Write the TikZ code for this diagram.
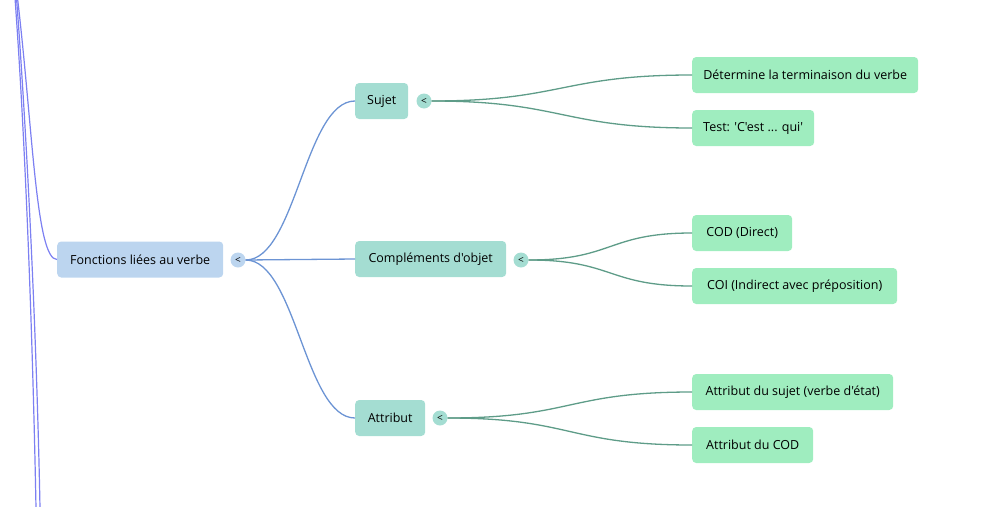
\documentclass[tikz,border=0pt]{standalone}
\usepackage{fontspec}
\setmainfont{Open Sans}[Ligatures=TeXOff]
\definecolor{rootfill}{HTML}{BCD5EF}
\definecolor{midfill}{HTML}{A4DDD2}
\definecolor{leaffill}{HTML}{9FEDBF}
\definecolor{upline}{HTML}{7C80F2}
\definecolor{blueedge}{HTML}{6C94D4}
\definecolor{greenedge}{HTML}{5E9C88}
\begin{document}
\begin{tikzpicture}[x=1pt,y=-1pt,
  box/.style={rounded corners=4pt, minimum height=36pt, inner sep=0pt, font=\fontsize{12.5}{14}\selectfont, text=black, anchor=west},
  rootbox/.style={box, fill=rootfill},
  midbox/.style={box, fill=midfill},
  leafbox/.style={box, fill=leaffill},
  dot/.style={circle, minimum size=15pt, inner sep=0pt, font=\fontsize{10}{11}\selectfont, text=black},
  rootdot/.style={dot, fill=rootfill},
  middot/.style={dot, fill=midfill},
  upedge/.style={draw=upline, line width=1.2pt},
  bedge/.style={draw=blueedge, line width=1.3pt},
  gedge/.style={draw=greenedge, line width=1.3pt}]
\useasboundingbox (0,0) rectangle (987,506);
% nodes
\node[rootbox, minimum width=166] (root) at (57,259.5) {Fonctions liées au verbe};
\node[rootdot] (rc) at (238,260) {<};
\node[midbox, minimum width=53] (sujet) at (355,101) {Sujet};
\node[middot] (sc) at (424,101) {<};
\node[midbox, minimum width=151] (comp) at (355,259) {Compléments d'objet};
\node[middot] (cc) at (521,260) {<};
\node[midbox, minimum width=70] (attr) at (355,418) {Attribut};
\node[middot] (ac) at (440,418) {<};
\node[leafbox, minimum width=226] (l1) at (692,75) {Détermine la terminaison du verbe};
\node[leafbox, minimum width=122] (l2) at (692,128) {Test: 'C'est ... qui'};
\node[leafbox, minimum width=100] (l3) at (692,233) {COD (Direct)};
\node[leafbox, minimum width=205] (l4) at (692,286) {COI (Indirect avec préposition)};
\node[leafbox, minimum width=201] (l5) at (692,392) {Attribut du sujet (verbe d'état)};
\node[leafbox, minimum width=121] (l6) at (692,445) {Attribut du COD};
% left incoming lines
\coordinate (t1) at (17.5,-2);
\coordinate (t2) at (15,-2);
\coordinate (t3) at (16.5,-2);
\coordinate (b2) at (36,508);
\coordinate (b3) at (40,508);
\draw[upedge] (t1) .. controls (33,130) and (36,259.5) .. (root.west);
\draw[upedge] (t2) .. controls (26,150) and (33,350) .. (b2);
\draw[upedge] (t3) .. controls (28,150) and (37,350) .. (b3);
% root to mid
\draw[bedge] (rc.east) .. controls +(50,0) and +(-50,0) .. (sujet.west);
\draw[bedge] (rc.east) -- (comp.west);
\draw[bedge] (rc.east) .. controls +(50,0) and +(-50,0) .. (attr.west);
% mid to leaves
\draw[gedge] (sc.east) .. controls +(130,0) and +(-130,0) .. (l1.west);
\draw[gedge] (sc.east) .. controls +(130,0) and +(-130,0) .. (l2.west);
\draw[gedge] (cc.east) .. controls +(85,0) and +(-85,0) .. (l3.west);
\draw[gedge] (cc.east) .. controls +(85,0) and +(-85,0) .. (l4.west);
\draw[gedge] (ac.east) .. controls +(125,0) and +(-125,0) .. (l5.west);
\draw[gedge] (ac.east) .. controls +(125,0) and +(-125,0) .. (l6.west);
\end{tikzpicture}
\end{document}
